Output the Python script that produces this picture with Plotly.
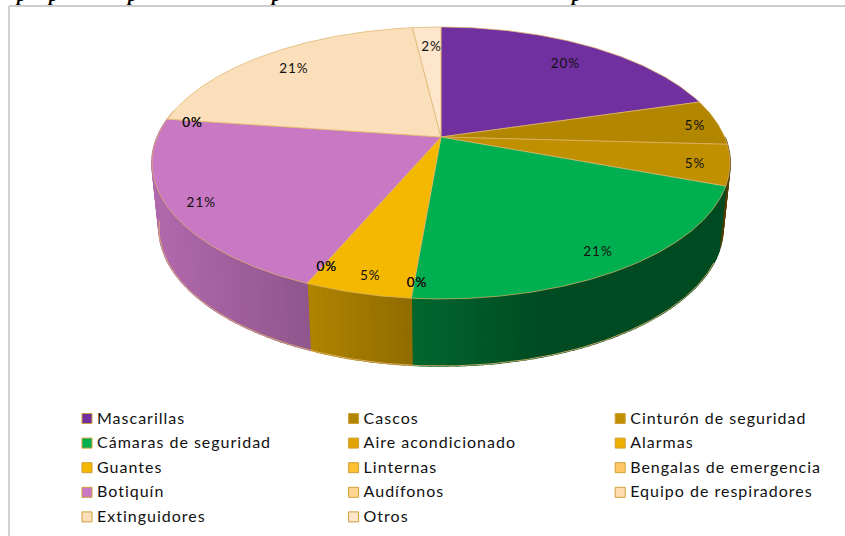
import numpy as np
import plotly.graph_objects as go

# ---- data ----
CATEGORIES = ["Mascarillas", "Cascos", "Cinturón de seguridad", "Cámaras de seguridad",
              "Aire acondicionado", "Alarmas", "Guantes", "Linternas",
              "Bengalas de emergencia", "Botiquín", "Audífonos", "Equipo de respiradores",
              "Extinguidores", "Otros"]
VALUES = [20.4, 5.4, 4.8, 20.6, 0, 0, 5.0, 0, 0, 20.8, 0, 0, 20.8, 1.9]
COLORS = ["#7030A0", "#B38600", "#C09000", "#00B050", "#E2A400", "#EEB000", "#F5B800",
          "#FFC12F", "#FFC866", "#C978C4", "#FFD591", "#FFDDAE", "#FBDFBB", "#FDE6CC"]

# ---- styling / projection parameters ----
LABEL_R = [.805, .91, .875, .875, .91, .91, .896, .89, .89, .898, .915, .915, .84, .82]
FONT = "Lato"
CX, K = 441.0, 0.191
TOP = dict(a=283.7, b=131.0, y0=137.0)
BOT = dict(a=276.8, b=133.0, y0=201.6)
EDGE = "rgba(222,178,105,0.9)"


def project(theta_deg, r, p):
    t = np.radians(theta_deg)
    X, Y = r * np.sin(t), r * np.cos(t)
    w = 1 + K * Y
    return CX + p["a"] * X / w, p["y0"] - p["b"] * Y / w


def shade(hex_color, s):
    rgb = [int(hex_color[i:i + 2], 16) for i in (1, 3, 5)]
    return "rgb(%d,%d,%d)" % tuple(int(c * s) for c in rgb)


def wall_factor(x):
    return float(np.interp(x, [160, 306, 410, 540, 725], [.875, .72, .59, .43, .43]))


vals = np.array(VALUES, float)
fractions = vals / vals.sum()
ends = np.cumsum(fractions) * 360
starts = ends - fractions * 360
mids = (starts + ends) / 2

fig = go.Figure()

# side wall, as thin vertical strips between the top and bottom rims
WALL_FROM, WALL_TO, STEP = 90.0, 282.0, 1.5
for s, e, col in zip(starts, ends, COLORS):
    lo, hi = max(s, WALL_FROM), min(e, WALL_TO)
    if hi <= lo:
        continue
    n = max(1, int(np.ceil((hi - lo) / STEP)))
    edges = np.linspace(lo, hi, n + 1)
    for a0, a1 in zip(edges[:-1], edges[1:]):
        th = np.array([a0, a1])
        xt, yt = project(th, 1.0, TOP)
        xb, yb = project(th, 1.0, BOT)
        px = list(xt) + list(xb[::-1]) + [xt[0]]
        py = list(yt) + list(yb[::-1]) + [yt[0]]
        c = shade(col, wall_factor(float(np.mean(xt))))
        fig.add_trace(go.Scatter(x=px, y=py, mode="lines", fill="toself", fillcolor=c,
                                 line=dict(color=c, width=1.6), hoverinfo="skip", showlegend=False))

# rim of the bottom edge (only the front part: the ends are hidden in the silhouette)
th = np.linspace(115, 262, 200)
xb, yb = project(th, 1.0, BOT)
fig.add_trace(go.Scatter(x=xb, y=yb, mode="lines", line=dict(color=EDGE, width=1),
                         hoverinfo="skip", showlegend=False))

# top face slices
for s, e, v, col, name in zip(starts, ends, vals, COLORS, CATEGORIES):
    if v <= 0:
        continue
    th = np.linspace(s, e, max(3, int((e - s) * 2)))
    xa, ya = project(th, 1.0, TOP)
    x0, y0 = project(0.0, 0.0, TOP)
    fig.add_trace(go.Scatter(x=[x0, *xa, x0], y=[y0, *ya, y0], mode="lines", fill="toself",
                             fillcolor=col, line=dict(color=EDGE, width=0.8),
                             name=name, hoverinfo="name", showlegend=False))

# percent labels (zero-valued slices overprint each other)
lx, ly = project(mids, np.array(LABEL_R), TOP)
fig.add_trace(go.Scatter(x=lx + 2.5, y=ly + 3, mode="text",
                         text=["%d%%" % round(f * 100) for f in fractions],
                         textfont=dict(family=FONT, size=13.5, color="#111111"),
                         hoverinfo="skip", showlegend=False))

# legend, three columns filled row by row
rows = [i // 3 for i in range(len(CATEGORIES))]
cols = [i % 3 for i in range(len(CATEGORIES))]
leg_x = [87 + 266.6 * c for c in cols]
leg_y = [418.5 + 24.6 * r for r in rows]
fig.add_trace(go.Scatter(x=leg_x, y=leg_y, mode="markers",
                         marker=dict(symbol="square", size=10, color=COLORS,
                                     line=dict(color="#CF9F3A", width=1)),
                         hoverinfo="skip", showlegend=False))
fig.add_trace(go.Scatter(x=[v + 10 for v in leg_x], y=[v + 1 for v in leg_y], mode="text",
                         text=CATEGORIES, textposition="middle right",
                         textfont=dict(family=FONT, size=16, color="#111111"),
                         hoverinfo="skip", showlegend=False))

# clipped descenders of the text line above the chart (cut off in the reference too)
for x in [20, 52, 131, 275, 575]:
    fig.add_annotation(x=x / 845, y=1 + 5 / 536, xref="paper", yref="paper", text="<b><i>p</i></b>",
                       showarrow=False,
                       font=dict(family="Liberation Serif", size=18, color="#000000"),
                       yanchor="middle", xanchor="center")

# chart frame
fig.add_shape(type="line", x0=9, x1=9, y0=6, y1=536, xref="x", yref="y",
              line=dict(color="#A6A6A6", width=1))
fig.add_shape(type="line", x0=9, x1=845, y0=6, y1=6, xref="x", yref="y",
              line=dict(color="#BDBDBD", width=1.5))

fig.update_layout(width=845, height=536, margin=dict(l=0, r=0, t=0, b=0),
                  paper_bgcolor="white", plot_bgcolor="white", showlegend=False,
                  xaxis=dict(range=[0, 845], visible=False, fixedrange=True),
                  yaxis=dict(range=[536, 0], visible=False, fixedrange=True))
POST = """
document.documentElement.style.margin='0';
document.documentElement.style.overflow='hidden';
document.body.style.margin='0';
var st=document.createElement('style');
st.textContent='.textpoint text{letter-spacing:1px}';
document.head.appendChild(st);
"""
fig.write_html("out.html", post_script=POST, config=dict(displayModeBar=False))
